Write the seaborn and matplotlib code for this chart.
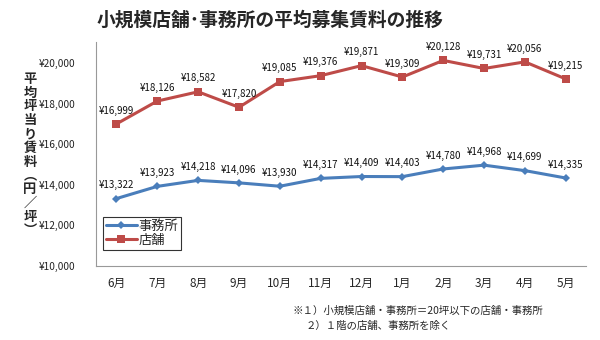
import matplotlib
matplotlib.use("Agg")
import matplotlib.pyplot as plt
import seaborn as sns
import pandas as pd

months = ["6月", "7月", "8月", "9月", "10月", "11月", "12月", "1月", "2月", "3月", "4月", "5月"]
office = [13322, 13923, 14218, 14096, 13930, 14317, 14409, 14403, 14780, 14968, 14699, 14335]
store = [16999, 18126, 18582, 17820, 19085, 19376, 19871, 19309, 20128, 19731, 20056, 19215]
series_names = ["事務所", "店舗"]
yticks = [10000, 12000, 14000, 16000, 18000, 20000]
title = "小規模店舗･事務所の平均募集賃料の推移"
ylabel_chars = ["平", "均", "坪", "当", "り", "賃", "料", "︵", "円", "／", "坪", "︶"]
notes = ["※１）小規模店舗・事務所＝20坪以下の店舗・事務所", "２）１階の店舗、事務所を除く"]

sns.set_style("white")
plt.rcParams["font.family"] = ["Noto Sans CJK JP", "DejaVu Sans"]

df = pd.DataFrame({
    "idx": list(range(len(months))) * 2,
    "value": office + store,
    "series": [series_names[0]] * len(months) + [series_names[1]] * len(months),
})

fig = plt.figure(figsize=(6, 3.4), dpi=100)
ax = fig.add_axes([0.16, 0.2176, 0.817, 0.6588])

palette = {series_names[0]: "#4A7EBB", series_names[1]: "#BE4B48"}
markers = {series_names[0]: "D", series_names[1]: "s"}
sizes = {series_names[0]: 4.5, series_names[1]: 6}

for name in series_names:
    sub = df[df["series"] == name]
    sns.lineplot(data=sub, x="idx", y="value", ax=ax, color=palette[name],
                 marker=markers[name], markersize=sizes[name], markeredgewidth=0,
                 linewidth=2.2, label=name)
    for x, y in zip(sub["idx"], sub["value"]):
        ax.annotate(f"¥{y:,}", (x, y), xytext=(0, 6), textcoords="offset points",
                    ha="center", va="bottom", fontsize=7, color="#111111")

ax.set_xlim(-0.5, 11.5)
ax.set_ylim(10000, 21034)
ax.set_xticks(range(len(months)))
ax.set_xticklabels(months, fontsize=8.5)
ax.set_yticks(yticks)
ax.set_yticklabels([f"¥{v:,}" for v in yticks], fontsize=7.3, color="#222222")
ax.tick_params(axis="both", length=0)
ax.tick_params(axis="y", pad=15)
ax.tick_params(axis="x", pad=8)
ax.set_xlabel("")
ax.set_ylabel("")
for side in ["top", "right"]:
    ax.spines[side].set_visible(False)
for side in ["left", "bottom"]:
    ax.spines[side].set_color("#999999")
    ax.spines[side].set_linewidth(0.8)

leg = ax.legend(loc="upper left", bbox_to_anchor=(0.014, 0.219), frameon=True,
                fancybox=False, fontsize=9.5, handlelength=2.4, handletextpad=0.1,
                borderpad=0.2, labelspacing=0.1, borderaxespad=0)
leg.get_frame().set_edgecolor("black")
leg.get_frame().set_linewidth(0.8)

fig.text(0.45, 0.94, title, ha="center", va="center", fontsize=13.5, fontweight="bold")
fig.text(0.05, 0.545, "\n".join(ylabel_chars),
         ha="center", va="center", fontsize=9.5, fontweight="bold", linespacing=0.98)
fig.text(0.488, 0.085, notes[0], ha="left", va="center", fontsize=7.5)
fig.text(0.51, 0.04, notes[1], ha="left", va="center", fontsize=7.5)

fig.savefig("out.png", dpi=100)
